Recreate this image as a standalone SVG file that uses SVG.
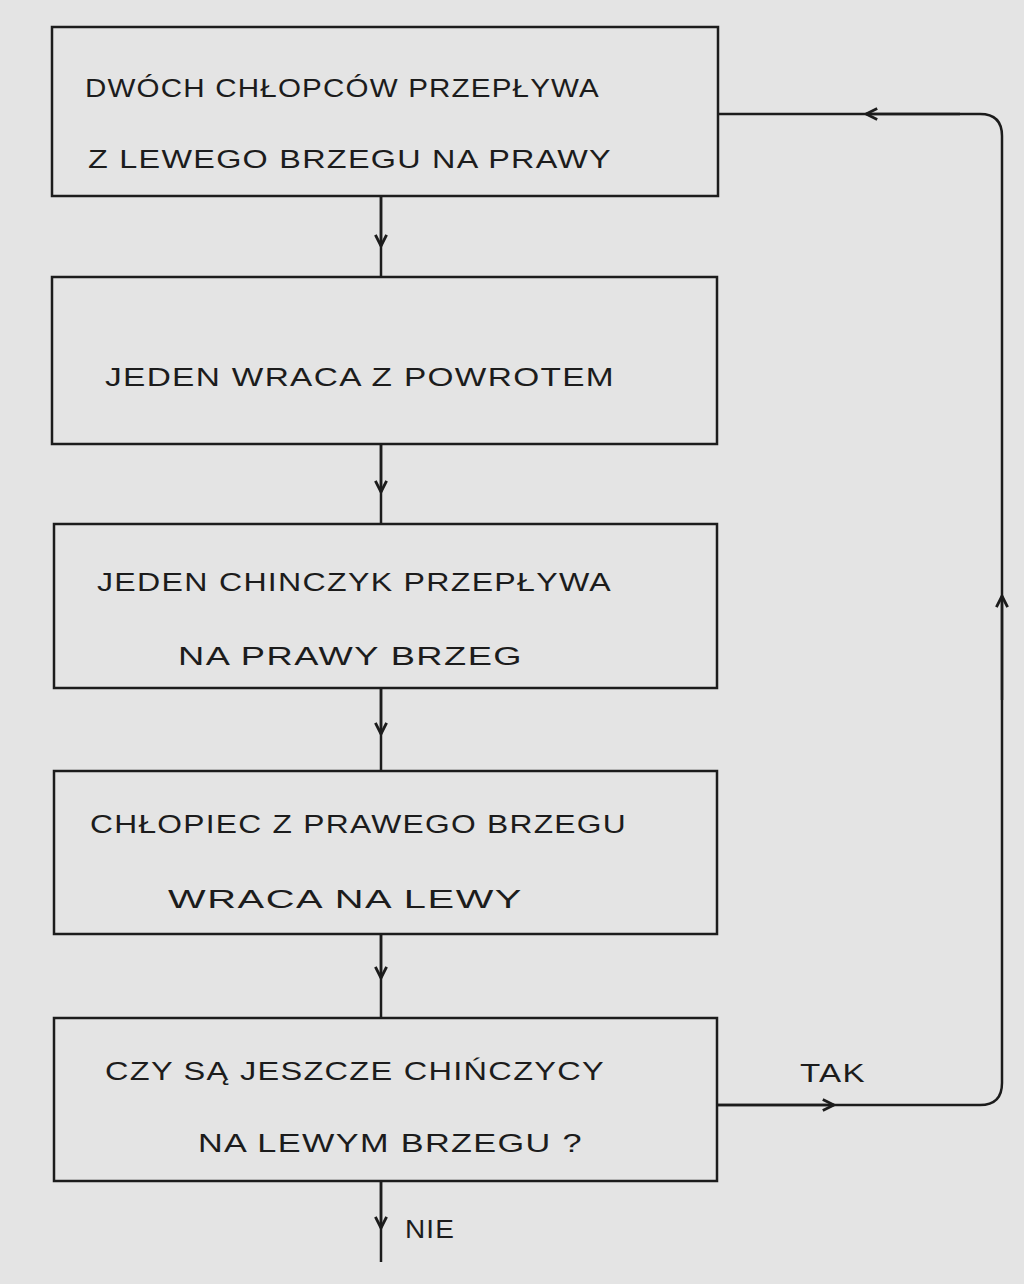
<svg xmlns="http://www.w3.org/2000/svg" width="1024" height="1284" viewBox="0 0 1024 1284">
<defs>
<style>
.box{fill:none;stroke:#1c1c1c;stroke-width:2.5}
.ln{fill:none;stroke:#1c1c1c;stroke-width:2.5}
.t{font-family:"Liberation Sans","DejaVu Sans",sans-serif;font-size:25px;fill:#1c1c1c;letter-spacing:1px}
</style>
<marker id="ah" viewBox="0 0 10 10" refX="9" refY="5" markerWidth="14" markerHeight="14" markerUnits="userSpaceOnUse" orient="auto">
<path d="M1,1 L9,5 L1,9" fill="none" stroke="#1c1c1c" stroke-width="2"/>
</marker>
</defs>
<rect width="1024" height="1284" fill="#e4e4e4"/>
<g id="connectors">
<path class="ln" d="M381,196 V277"/>
<path class="ln" d="M381,196 V246" marker-end="url(#ah)"/>
<path class="ln" d="M381,444 V524"/>
<path class="ln" d="M381,444 V492" marker-end="url(#ah)"/>
<path class="ln" d="M381,688 V771"/>
<path class="ln" d="M381,688 V734" marker-end="url(#ah)"/>
<path class="ln" d="M381,934 V1018"/>
<path class="ln" d="M381,934 V978" marker-end="url(#ah)"/>
<path class="ln" d="M381,1181 V1262"/>
<path class="ln" d="M381,1181 V1228" marker-end="url(#ah)"/>
<path class="ln" d="M717,1105 H980 Q1002,1105 1002,1083 V136 Q1002,114 980,114 H718"/>
<path class="ln" d="M717,1105 H834" marker-end="url(#ah)"/>
<path class="ln" d="M1002,700 V596" marker-end="url(#ah)"/>
<path class="ln" d="M960,114 H866" marker-end="url(#ah)"/>
<text class="t" x="800" y="1082" textLength="66" lengthAdjust="spacingAndGlyphs">TAK</text>
<text class="t" x="405" y="1238" textLength="50" lengthAdjust="spacingAndGlyphs">NIE</text>
</g>
<g id="n1">
<rect class="box" x="52" y="27" width="666" height="169"/>
<text class="t" x="85" y="97" textLength="515" lengthAdjust="spacingAndGlyphs">DWÓCH  CHŁOPCÓW  PRZEPŁYWA</text>
<text class="t" x="88" y="168" textLength="524" lengthAdjust="spacingAndGlyphs">Z LEWEGO  BRZEGU  NA  PRAWY</text>
</g>
<g id="n2">
<rect class="box" x="52" y="277" width="665" height="167"/>
<text class="t" x="105" y="386" textLength="510" lengthAdjust="spacingAndGlyphs">JEDEN  WRACA  Z  POWROTEM</text>
</g>
<g id="n3">
<rect class="box" x="54" y="524" width="663" height="164"/>
<text class="t" x="97" y="591" textLength="515" lengthAdjust="spacingAndGlyphs">JEDEN  CHINCZYK  PRZEPŁYWA</text>
<text class="t" x="178" y="665" textLength="345" lengthAdjust="spacingAndGlyphs">NA  PRAWY  BRZEG</text>
</g>
<g id="n4">
<rect class="box" x="54" y="771" width="663" height="163"/>
<text class="t" x="90" y="833" textLength="537" lengthAdjust="spacingAndGlyphs">CHŁOPIEC  Z PRAWEGO  BRZEGU</text>
<text class="t" x="168" y="908" textLength="355" lengthAdjust="spacingAndGlyphs">WRACA  NA  LEWY</text>
</g>
<g id="n5">
<rect class="box" x="54" y="1018" width="663" height="163"/>
<text class="t" x="105" y="1080" textLength="500" lengthAdjust="spacingAndGlyphs">CZY  SĄ  JESZCZE  CHIŃCZYCY</text>
<text class="t" x="198" y="1152" textLength="385" lengthAdjust="spacingAndGlyphs">NA  LEWYM  BRZEGU ?</text>
</g>
</svg>
